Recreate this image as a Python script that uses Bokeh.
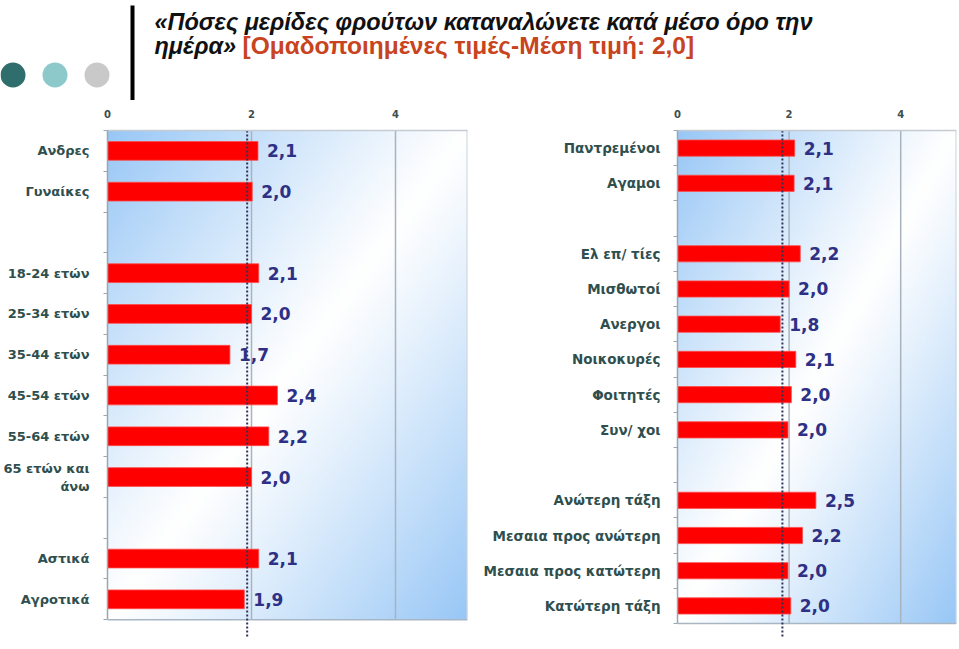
import numpy as np
from bokeh.plotting import figure
from bokeh.models import Range1d, LinearAxis, FixedTicker
from bokeh.layouts import column, row
from bokeh.embed import file_html
from bokeh.resources import INLINE
from bokeh.core.properties import value

# ---------------- data ----------------
title_line1 = "«Πόσες μερίδες φρούτων καταναλώνετε κατά μέσο όρο την"
title_line2a = "ημέρα»"
title_line2b = "[Ομαδοποιημένες τιμές-Μέση τιμή: 2,0]"

gender_labels = ["Ανδρες", "Γυναίκες"]
gender_values = [2.09, 2.01]
age_labels = ["18-24 ετών", "25-34 ετών", "35-44 ετών", "45-54 ετών", "55-64 ετών", "65 ετών και\nάνω"]
age_values = [2.1, 2.0, 1.7, 2.36, 2.24, 2.0]
area_labels = ["Αστικά", "Αγροτικά"]
area_values = [2.1, 1.9]

marital_labels = ["Παντρεμένοι", "Αγαμοι"]
marital_values = [2.1, 2.09]
occupation_labels = ["Ελ επ/ τίες", "Μισθωτοί", "Ανεργοι", "Νοικοκυρές", "Φοιτητές", "Συν/ χοι"]
occupation_values = [2.2, 2.0, 1.84, 2.12, 2.04, 1.98]
class_labels = ["Ανώτερη τάξη", "Μεσαια προς ανώτερη", "Μεσαια προς κατώτερη", "Κατώτερη τάξη"]
class_values = [2.48, 2.24, 1.98, 2.03]

x_ticks = [0, 2, 4]
x_max = 5
mean_line_left = 1.94
mean_line_right = 1.88

# ---------------- styles ----------------
CAT_COLOR = "#2F4F4E"
VAL_COLOR = "#2E3085"
BAR_COLOR = "#FF0000"
GRID_COLOR = "#A9B3BE"
BLUE = np.array([152, 199, 246], dtype=float)
WHITE = np.array([255, 255, 255], dtype=float)


def fmt(v):
    return ("%.1f" % v).replace(".", ",")


def gradient(nx=240, ny=240):
    u = np.linspace(0, 1, nx)[None, :]
    v = 1 - np.linspace(0, 1, ny)[:, None]   # fraction down from top; row 0 is bottom
    t = (u + v) / 2.0
    b = np.clip(np.abs(t - 0.5) * 2.0, 0, 1) ** 1.1
    img = np.empty((ny, nx), dtype=np.uint32)
    view = img.view(dtype=np.uint8).reshape((ny, nx, 4))
    for c in range(3):
        view[:, :, c] = (WHITE[c] + (BLUE[c] - WHITE[c]) * b).astype(np.uint8)
    view[:, :, 3] = 255
    return img


def make_panel(groups, width, height, b_left, b_right, b_top, panel_h, ext,
               cat_size, standoff, mean_line):
    labels, vals, slots = [], [], []
    s = 0
    for gi, (lab, val) in enumerate(groups):
        if gi > 0:
            s += 1
        for l, v in zip(lab, val):
            labels.append(l)
            vals.append(v)
            slots.append(s)
            s += 1
    n = s
    slot_px = panel_h / n
    ext_u = ext / slot_px
    ys = [n - sl - 0.5 for sl in slots]
    frame_h = panel_h + ext

    p = figure(width=width, height=height,
               x_range=Range1d(0, x_max), y_range=Range1d(-ext_u, n),
               output_backend="svg", toolbar_location=None,
               x_axis_location=None, y_axis_location=None,
               min_border_left=b_left, min_border_right=b_right,
               min_border_top=b_top, min_border_bottom=height - b_top - frame_h)
    p.outline_line_color = None
    p.xgrid.grid_line_color = None
    p.ygrid.grid_line_color = None
    p.background_fill_color = "white"
    p.border_fill_color = "white"

    p.image_rgba(image=[gradient()], x=0, y=0, dw=x_max, dh=n)
    gx = [t for t in x_ticks if t > 0]
    p.segment(x0=gx, y0=0, x1=gx, y1=n, line_color=GRID_COLOR, line_width=1.5)
    p.segment(x0=[x_max], y0=[0], x1=[x_max], y1=[n], line_color="#CDD3DA", line_width=2)
    p.segment(x0=[0], y0=[0], x1=[x_max], y1=[0], line_color="#A8B6C4", line_width=1.5)

    p.hbar(y=ys, left=0, right=vals, height=0.46, fill_color=BAR_COLOR,
           line_color="#FF4A4A", line_width=0.8)
    p.text(x=vals, y=ys, text=[fmt(v) for v in vals], x_offset=9,
           text_baseline="middle", text_align="left",
           text_font=value("DejaVu Sans"), text_font_style="bold",
           text_font_size="17px", text_color=VAL_COLOR)
    p.segment(x0=[mean_line], y0=[n], x1=[mean_line], y1=[-ext_u],
              line_color="#2F3458", line_width=2, line_dash="2 2")

    xa = LinearAxis(ticker=FixedTicker(ticks=x_ticks))
    xa.axis_line_color = "#C5CBD2"
    xa.axis_line_width = 1.5
    xa.major_tick_line_color = None
    xa.minor_tick_line_color = None
    xa.major_label_text_font = "DejaVu Sans"
    xa.major_label_text_font_size = "10px"
    xa.major_label_text_font_style = "bold"
    xa.major_label_text_color = "#3E4E4E"
    xa.major_label_standoff = 7
    p.add_layout(xa, "above")

    ya = LinearAxis(ticker=FixedTicker(ticks=ys, minor_ticks=list(range(n + 1))))
    ya.bounds = (0, n)
    ya.major_label_overrides = {y: lab for y, lab in zip(ys, labels)}
    ya.axis_line_color = "#9AA6B2"
    ya.axis_line_width = 1.5
    ya.major_tick_line_color = None
    ya.minor_tick_line_color = "#9AA6B2"
    ya.minor_tick_out = 4
    ya.minor_tick_in = 0
    ya.major_label_standoff = standoff
    ya.major_label_text_font = "DejaVu Sans"
    ya.major_label_text_font_size = cat_size
    ya.major_label_text_font_style = "bold"
    ya.major_label_text_color = CAT_COLOR
    p.add_layout(ya, "left")
    return p


# ---------------- title strip ----------------
top = figure(width=959, height=100, x_range=Range1d(0, 959), y_range=Range1d(100, 0),
             output_backend="svg", toolbar_location=None, min_border=0,
             x_axis_location=None, y_axis_location=None)
top.outline_line_color = None
top.xgrid.grid_line_color = None
top.ygrid.grid_line_color = None
top.circle(x=[12.5, 54.5, 96.5], y=[74.5, 74.5, 74.5], radius=12.5,
           fill_color=["#2F6E6D", "#8DC9CB", "#C9C9C9"], line_color=None)
top.quad(left=[130], right=[134], top=[5], bottom=[100], fill_color="black", line_color=None)
top.text(x=[154], y=[21], text=[title_line1], text_baseline="alphabetic",
         text_font=value("Liberation Sans"), text_font_style="bold italic",
         text_font_size="23.5px", text_color="#111111")
top.text(x=[154], y=[45], text=[title_line2a], text_baseline="alphabetic",
         text_font=value("Liberation Sans"), text_font_style="bold italic",
         text_font_size="23.5px", text_color="#111111")
top.text(x=[242], y=[45], text=[title_line2b], text_baseline="alphabetic",
         text_font=value("Liberation Sans"), text_font_style="bold",
         text_font_size="24.5px", text_color="#C84420")

left = make_panel([(gender_labels, gender_values), (age_labels, age_values),
                   (area_labels, area_values)],
                  width=480, height=549, b_left=103, b_right=13, b_top=30,
                  panel_h=495, ext=18, cat_size="13px", standoff=12,
                  mean_line=mean_line_left)
right = make_panel([(marital_labels, marital_values), (occupation_labels, occupation_values),
                    (class_labels, class_values)],
                   width=479, height=549, b_left=193, b_right=3, b_top=28,
                   panel_h=495, ext=14, cat_size="13.5px", standoff=11,
                   mean_line=mean_line_right)

layout = column(top, row(left, right))
open("out.html", "w").write(file_html(layout, INLINE))
